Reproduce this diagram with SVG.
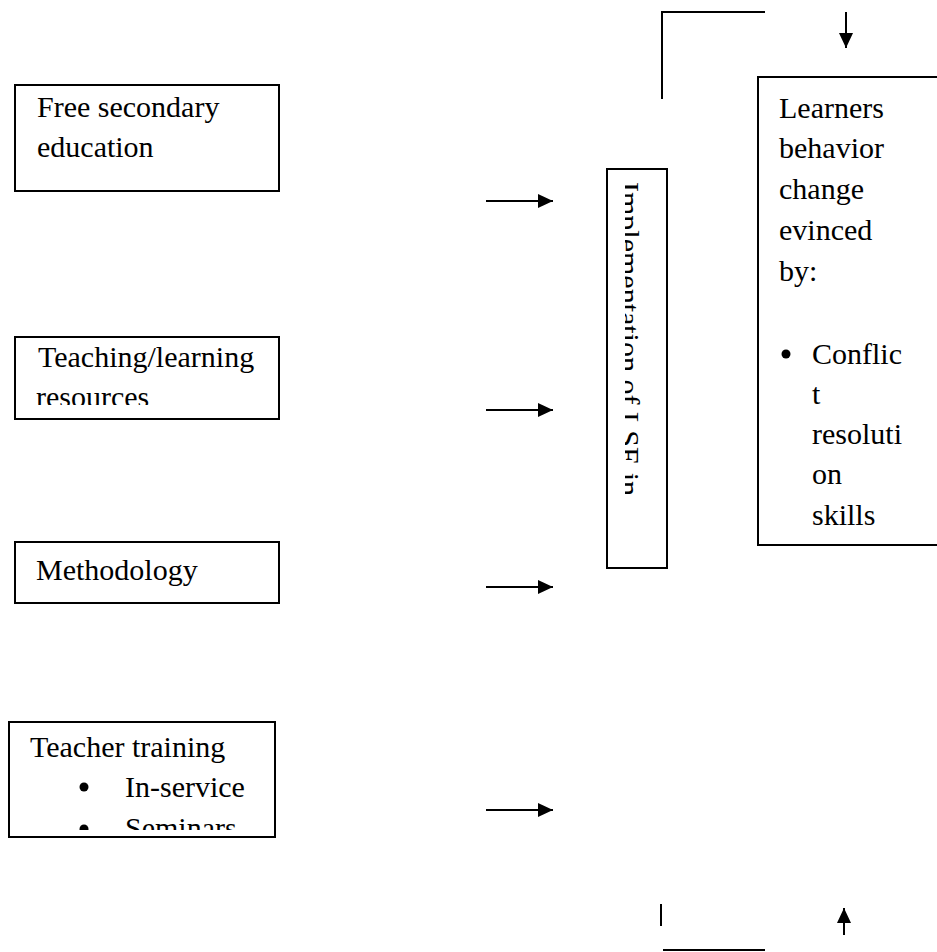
<svg xmlns="http://www.w3.org/2000/svg" width="937" height="952" viewBox="0 0 937 952">
<style>
.box{fill:#fff;stroke:#000;stroke-width:2}
.t{font-family:"Liberation Serif","Times New Roman",serif;font-size:30px;fill:#000}
.ln{stroke:#000;stroke-width:2;fill:none}
.dot{fill:#000}
</style>
<defs>
<marker id="ah" markerWidth="16" markerHeight="14" refX="15" refY="7" orient="auto" markerUnits="userSpaceOnUse">
<path d="M0,0 L15,7 L0,14 Z" fill="#000"/>
</marker>
<clipPath id="c1" clipPathUnits="userSpaceOnUse"><rect x="15" y="85" width="264" height="100"/></clipPath>
<clipPath id="c2" clipPathUnits="userSpaceOnUse"><rect x="15" y="337" width="264" height="68"/></clipPath>
<clipPath id="c4" clipPathUnits="userSpaceOnUse"><rect x="9" y="722" width="266" height="108"/></clipPath>
<clipPath id="c5" clipPathUnits="userSpaceOnUse"><rect x="625" y="169" width="42" height="399"/></clipPath>
</defs>

<g id="node-free-secondary">
<rect class="box" x="15" y="85" width="264" height="106"/>
<g clip-path="url(#c1)">
<text class="t" x="37" y="117">Free secondary</text>
<text class="t" x="37" y="157">education</text>
</g>
</g>

<g id="node-resources">
<rect class="box" x="15" y="337" width="264" height="82"/>
<g clip-path="url(#c2)">
<text class="t" x="38" y="367">Teaching/learning</text>
<text class="t" x="36" y="407">resources</text>
</g>
</g>

<g id="node-methodology">
<rect class="box" x="15" y="542" width="264" height="61"/>
<text class="t" x="36" y="580">Methodology</text>
</g>

<g id="node-teacher-training">
<rect class="box" x="9" y="722" width="266" height="115"/>
<g clip-path="url(#c4)">
<text class="t" x="30" y="757">Teacher training</text>
<circle class="dot" cx="84" cy="787" r="4.5"/>
<text class="t" x="125" y="797">In-service</text>
<circle class="dot" cx="84" cy="829" r="4.5"/>
<text class="t" x="125" y="838">Seminars</text>
</g>
</g>

<g id="node-implementation">
<rect class="box" x="607" y="169" width="60" height="399"/>
<g clip-path="url(#c5)">
<text class="t" transform="translate(619,182) rotate(90)">Implementation of LSE in</text>
</g>
</g>

<g id="node-behavior-change">
<rect class="box" x="758" y="77" width="190" height="468"/>
<text class="t" x="779" y="118">Learners</text>
<text class="t" x="779" y="158">behavior</text>
<text class="t" x="779" y="199">change</text>
<text class="t" x="779" y="240">evinced</text>
<text class="t" x="779" y="281">by:</text>
<circle class="dot" cx="786" cy="354" r="4.5"/>
<text class="t" x="812" y="364">Conflic</text>
<text class="t" x="812" y="404">t</text>
<text class="t" x="812" y="444">resoluti</text>
<text class="t" x="812" y="484">on</text>
<text class="t" x="812" y="525">skills</text>
</g>

<g id="connectors">
<line class="ln" x1="486" y1="201" x2="553" y2="201" marker-end="url(#ah)"/>
<line class="ln" x1="486" y1="410" x2="553" y2="410" marker-end="url(#ah)"/>
<line class="ln" x1="486" y1="587" x2="553" y2="587" marker-end="url(#ah)"/>
<line class="ln" x1="486" y1="810" x2="553" y2="810" marker-end="url(#ah)"/>
<polyline class="ln" points="662,99 662,12 765,12"/>
<line class="ln" x1="846" y1="12" x2="846" y2="48" marker-end="url(#ah)"/>
<line class="ln" x1="661" y1="904" x2="661" y2="926"/>
<line class="ln" x1="663" y1="950" x2="765" y2="950"/>
<line class="ln" x1="844" y1="935" x2="844" y2="908" marker-end="url(#ah)"/>
</g>
</svg>
